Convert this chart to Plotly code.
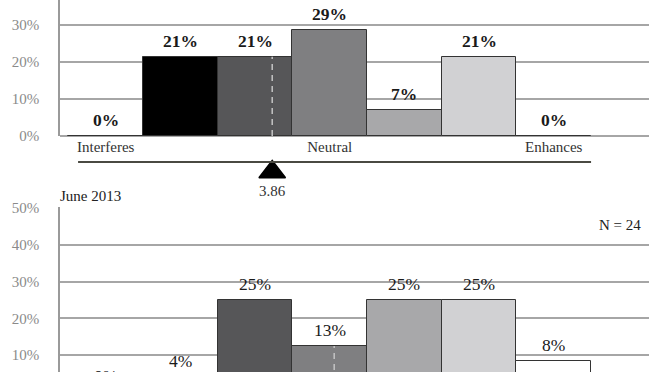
import plotly.graph_objects as go

# ---- data ----
scale_points = [1, 2, 3, 4, 5, 6, 7]
scale_tick_vals = [1, 4, 7]
scale_tick_text = ["Interferes", "Neutral", "Enhances"]

top_values = [0, 21.4, 21.4, 28.6, 7.1, 21.4, 0]          # % (earlier survey)
bottom_values = [0, 4.2, 25.0, 12.5, 25.0, 25.0, 8.3]     # % (June 2013)
top_y_ticks = [0, 10, 20, 30]
bottom_y_ticks = [0, 10, 20, 30, 40, 50]
bottom_title = "June 2013"
bottom_n = 24

mean_labels = [3.86]            # mean printed under the top panel
mean_positions = [3.23, 4.06]   # where the mean marker / dashed line sit on the scale

bar_colors = ["#ffffff", "#000000", "#565658", "#7f7f81", "#a8a8aa", "#d1d1d3", "#ffffff"]

SERIF = "Liberation Serif"
W = 672
FIG_H = 400          # figure continues below the 372px window, like the cropped original
MB = 8
HP = FIG_H - MB      # plot-area height in px (top margin 0)

def pct_label(v):
    return f"{int(v + 0.5)}%"

def py(px):
    """paper y for a pixel row measured from the top of the page"""
    return 1 - px / HP

fig = go.Figure()

fig.add_trace(go.Bar(
    x=scale_points, y=top_values, xaxis="x", yaxis="y",
    marker=dict(color=bar_colors, line=dict(color="#333333", width=1)),
    showlegend=False, hoverinfo="skip",
))
fig.add_trace(go.Bar(
    x=scale_points, y=bottom_values, xaxis="x2", yaxis="y2",
    marker=dict(color=bar_colors, line=dict(color="#333333", width=1)),
    showlegend=False, hoverinfo="skip",
))

# mean marker triangle (overlay axis between panels, pixel-like range)
fig.add_trace(go.Scatter(
    x=[mean_positions[0]], y=[172], xaxis="x3", yaxis="y3",
    mode="markers", marker=dict(symbol="triangle-up", size=23, color="#000000",
                                line=dict(color="#000000", width=1.5)),
    showlegend=False, hoverinfo="skip", cliponaxis=False,
))

xr = [0.388, 8.276]
top_dom = [py(136), 1]
bot_dom = [0, py(207)]
mid_dom = [bot_dom[1], top_dom[0]]

grid = "#a6a6a6"
tickfont = dict(family=SERIF, size=15, color="#8a8a8a")

fig.update_layout(
    width=W, height=FIG_H, autosize=False,
    margin=dict(l=60, r=23, t=0, b=MB, pad=0, autoexpand=False),
    paper_bgcolor="white", plot_bgcolor="white",
    bargap=0,
    font=dict(family=SERIF),
    xaxis=dict(domain=[0, 1], range=xr, anchor="y", tickvals=scale_tick_vals,
               ticktext=scale_tick_text, ticks="", showgrid=False, zeroline=False,
               showline=False, tickfont=dict(family=SERIF, size=15, color="#333333"),
               ticklabelstandoff=0, automargin=False),
    yaxis=dict(domain=top_dom, range=[0, 136 / 3.7], anchor="x",
               tickvals=top_y_ticks, ticktext=[f"{t}%" for t in top_y_ticks],
               showgrid=True, gridcolor=grid, gridwidth=1.5, zeroline=True,
               zerolinecolor=grid, zerolinewidth=1.5, showline=True,
               linecolor="#9a9a9a", linewidth=1.5, ticks="", tickfont=tickfont,
               ticklabelstandoff=16, automargin=False),
    xaxis2=dict(domain=[0, 1], range=xr, anchor="y2", showticklabels=False,
                ticks="", showgrid=False, zeroline=False, showline=False,
                automargin=False),
    yaxis2=dict(domain=bot_dom, range=[0, 50 + 1 / 3.675], anchor="x2",
                tickvals=bottom_y_ticks, ticktext=[f"{t}%" for t in bottom_y_ticks],
                showgrid=True, gridcolor=grid, gridwidth=1.5, zeroline=True,
                zerolinecolor=grid, zerolinewidth=1.5,
                showline=True, linecolor="#9a9a9a", linewidth=1.5,
                ticks="", tickfont=tickfont, ticklabelstandoff=16, automargin=False),
    xaxis3=dict(domain=[0, 1], range=xr, anchor="y3", visible=False, automargin=False),
    yaxis3=dict(domain=mid_dom, range=[207, 136], anchor="x3", visible=False,
                automargin=False),
)

# value labels above the bars
for vals, xa, ya, weight in [(top_values, "x", "y", "bold"),
                             (bottom_values, "x2", "y2", "normal")]:
    for c, v in zip(scale_points, vals):
        fig.add_annotation(x=c, y=v, xref=xa, yref=ya, text=pct_label(v),
                           showarrow=False, xanchor="center", yanchor="bottom",
                           yshift=4,
                           font=dict(family=SERIF, size=17.5, color="#1a1a1a",
                                     weight=weight))

# scale line under the category labels
fig.add_shape(type="line", xref="x", yref="paper", x0=0.63, x1=7.5,
              y0=py(162), y1=py(162),
              line=dict(color="#4a4a42", width=2))

# dashed mean lines inside the bars
for pos, vals, xa, ya in [(mean_positions[0], top_values, "x", "y"),
                          (mean_positions[1], bottom_values, "x2", "y2")]:
    h = vals[int(round(pos)) - 1]
    fig.add_shape(type="line", xref=xa, yref=ya, x0=pos, x1=pos, y0=0, y1=h,
                  line=dict(color="#c4c4c4", width=1.5, dash="6px,5px"), layer="above")

# mean value label
fig.add_annotation(x=mean_positions[0], y=191, xref="x3", yref="y3",
                   text=f"{mean_labels[0]:.2f}", showarrow=False,
                   font=dict(family=SERIF, size=15, color="#333333"),
                   xanchor="center", yanchor="middle")

fig.add_annotation(x=-2 / 589, y=py(196), xref="paper", yref="paper",
                   text=bottom_title, showarrow=False, xanchor="left", yanchor="middle",
                   font=dict(family=SERIF, size=15, color="#222222"))
fig.add_annotation(x=(643 - 60) / 589, y=py(225), xref="paper", yref="paper",
                   text=f"N = {bottom_n}", showarrow=False, xanchor="right", yanchor="middle",
                   font=dict(family=SERIF, size=15, color="#222222"))

fig.write_html(
    "out.html",
    config={"displayModeBar": False},
    post_script="document.body.style.margin='0px';document.body.style.overflow='hidden';",
)
